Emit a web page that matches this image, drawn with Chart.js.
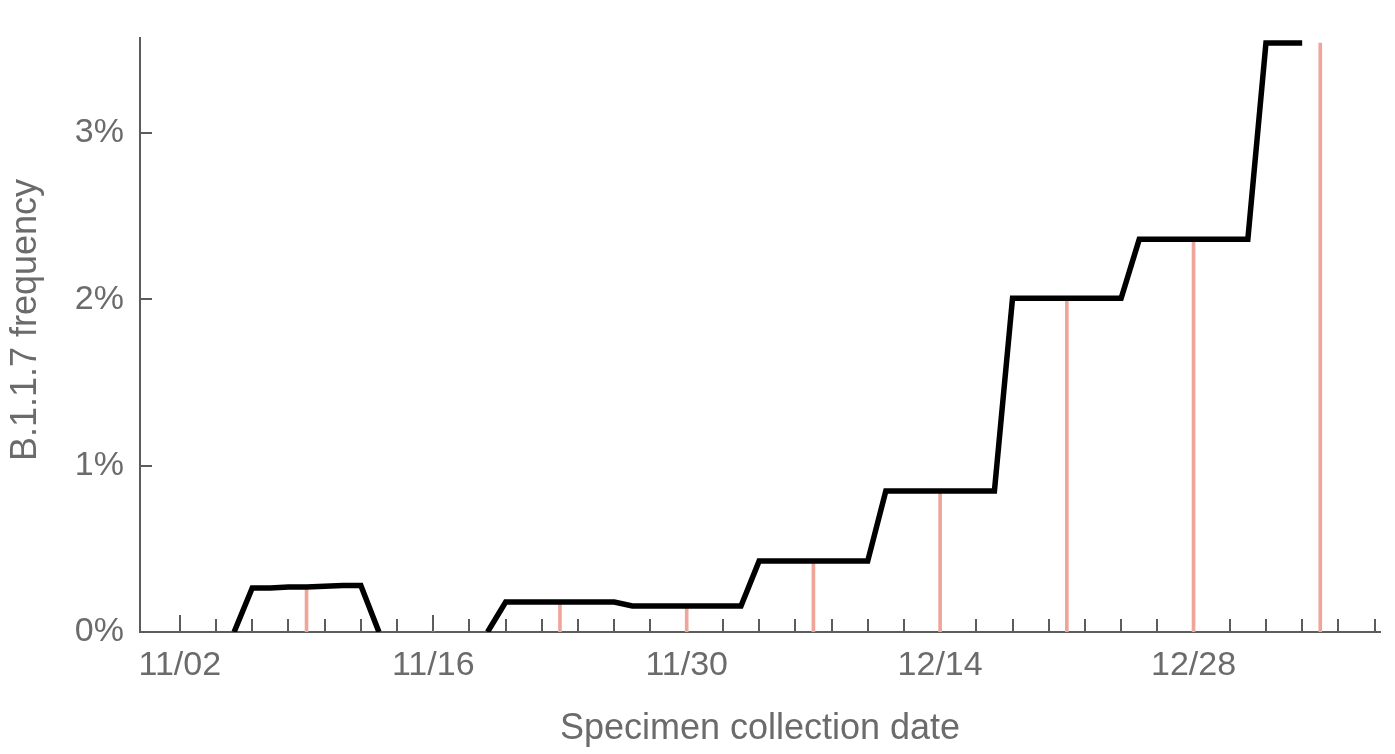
<!DOCTYPE html>
<html><head><meta charset="utf-8">
<script src="https://cdn.jsdelivr.net/npm/chart.js@4.4.1/dist/chart.umd.min.js"></script>
<style>html,body{margin:0;padding:0;background:#fff;} #wrap{width:1395px;height:754px;}</style>
</head><body><div id="wrap"><canvas id="c" width="1395" height="754"></canvas></div>
<script>
// Day 0 = 11/02 (specimen collection date)
const lineDays = [3,4,5,6,7,8,9,10,11,12,13,14,15,16,17,
  18,19,20,21,22,23,24,
  25,26,27,28,29,30,31,
  32,33,34,35,36,37,38,
  39,40,41,42,43,44,45,
  46,47,48,49,50,51,52,
  53,54,55,56,57,58,59,
  60,61,62];
const lineFreq = [0,0.265,0.265,0.27,0.27,0.275,0.28,0.28,0,null,null,null,null,null,0,
  0.18,0.18,0.18,0.18,0.18,0.18,0.18,
  0.156,0.156,0.156,0.156,0.156,0.156,0.156,
  0.426,0.426,0.426,0.426,0.426,0.426,0.426,
  0.847,0.847,0.847,0.847,0.847,0.847,0.847,
  2.006,2.006,2.006,2.006,2.006,2.006,2.006,
  2.36,2.36,2.36,2.36,2.36,2.36,2.36,
  3.54,3.54,3.54];
const weekDays = [7,14,21,28,35,42,49,56,63];
const weekFreq = [0.27,0,0.18,0.156,0.426,0.847,2.006,2.36,3.54];
const xTickLabels = ['11/02','11/16','11/30','12/14','12/28'];
const yTickLabels = ['0%','1%','2%','3%'];

const axisColor = '#5c5c5c';
const textColor = '#6b6b6b';
const family = "'Liberation Sans', Arial, Helvetica, sans-serif";

const innerTicks = {
  id: 'innerTicks',
  beforeDatasetsDraw(chart) {
    const {ctx, scales: {x, y}} = chart;
    ctx.save();
    ctx.strokeStyle = axisColor;
    ctx.lineWidth = 2;
    ctx.beginPath();
    x.ticks.forEach(t => {
      if (t.value < 0) return;
      const px = Math.round(x.getPixelForValue(t.value));
      const len = (t.value % 14 === 0) ? 17 : 13;
      ctx.moveTo(px, x.top);
      ctx.lineTo(px, x.top - len);
    });
    y.ticks.forEach(t => {
      if (t.value <= 0) return;
      const py = Math.round(y.getPixelForValue(t.value));
      ctx.moveTo(y.right, py);
      ctx.lineTo(y.right + 12, py);
    });
    ctx.stroke();
    ctx.restore();
  }
};

new Chart(document.getElementById('c'), {
  type: 'bar',
  data: {
    datasets: [
      {
        type: 'line',
        data: lineDays.map((d, i) => ({x: d, y: lineFreq[i]})),
        borderColor: '#000000',
        borderWidth: 5.5,
        pointRadius: 0,
        tension: 0,
        spanGaps: false,
        borderJoinStyle: 'miter',
        borderCapStyle: 'butt',
        order: 0
      },
      {
        type: 'bar',
        data: weekDays.map((d, i) => ({x: d, y: weekFreq[i]})),
        backgroundColor: '#f0a59b',
        borderWidth: 0,
        barThickness: 3,
        order: 1
      }
    ]
  },
  options: {
    responsive: false,
    animation: false,
    events: [],
    layout: {padding: {top: 38, right: 15, left: 0, bottom: 0}},
    plugins: {legend: {display: false}, tooltip: {enabled: false}},
    scales: {
      x: {
        type: 'linear', min: -2.2, max: 66.3, offset: false,
        grid: {display: false, offset: false},
        border: {display: true, color: axisColor, width: 2},
        ticks: {
          stepSize: 2, autoSkip: false, maxRotation: 0, minRotation: 0, includeBounds: false,
          padding: 5, color: textColor, font: {family, size: 34},
          callback: (v) => (v >= 0 && v % 14 === 0) ? xTickLabels[v / 14] : ''
        },
        title: {display: true, text: 'Specimen collection date', color: textColor,
          font: {family, size: 36}, padding: {top: 0, bottom: 3}},
        afterFit: (s) => { s.height = 122; }
      },
      y: {
        type: 'linear', min: 0, max: 3.57,
        grid: {display: false},
        border: {display: true, color: axisColor, width: 2},
        ticks: {
          stepSize: 1, includeBounds: false, padding: 8, color: textColor, font: {family, size: 34},
          callback: (v) => Number.isInteger(v) ? yTickLabels[v] : ''
        },
        title: {display: true, text: '   B.1.1.7 frequency', color: textColor,
          font: {family, size: 36}, padding: {top: 4, bottom: 0}},
        afterFit: (s) => { s.width = 140; }
      }
    }
  },
  plugins: [innerTicks]
});
</script>
</body></html>
